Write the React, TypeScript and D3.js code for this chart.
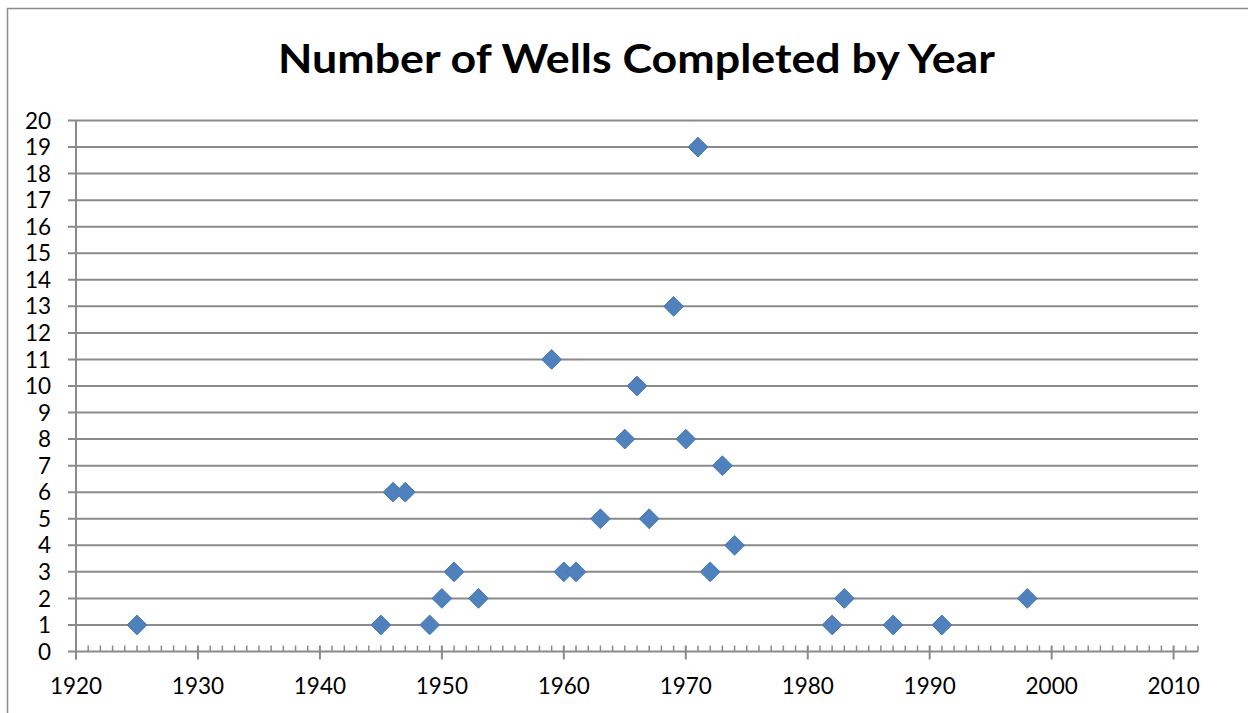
import React, { useEffect, useRef } from "react";
import * as d3 from "d3";

// wells completed per year
const years = [
  1925, 1945, 1946, 1947, 1949, 1950, 1951, 1953, 1959, 1960, 1961, 1963, 1965,
  1966, 1967, 1969, 1970, 1971, 1972, 1973, 1974, 1982, 1983, 1987, 1991, 1998,
];
const wells = [
  1, 1, 6, 6, 1, 2, 3, 2, 11, 3, 3, 5, 8, 10, 5, 13, 8, 19, 3, 7, 4, 1, 2, 1, 1, 2,
];
const xTicks = [1920, 1930, 1940, 1950, 1960, 1970, 1980, 1990, 2000, 2010];
const yTicks = d3.range(0, 21);
const title = "Number of Wells Completed by Year";

const App = () => {
  const svgRef = useRef<SVGSVGElement>(null);

  useEffect(() => {
    document.body.style.margin = "0";
    document.body.style.overflow = "hidden";

    const width = 1248;
    const height = 713;
    const margin = { top: 120.5, right: 50, bottom: 61.5, left: 76 };
    const font = "Lato, 'Open Sans', sans-serif";

    const svg = d3.select(svgRef.current);
    svg.selectAll("*").remove();
    svg.attr("width", width).attr("height", height);

    // chart area border (runs off the right and bottom edges)
    svg
      .append("path")
      .attr("d", `M7.5,${height + 5} V8.5 H${width + 5}`)
      .attr("fill", "none")
      .attr("stroke", "#8c8c8c")
      .attr("stroke-width", 1.5);

    const x = d3
      .scaleLinear()
      .domain([1920, 2012])
      .range([margin.left, width - margin.right]);
    const y = d3
      .scaleLinear()
      .domain([0, 20])
      .range([height - margin.bottom, margin.top]);

    // horizontal gridlines + y ticks
    svg
      .append("g")
      .selectAll("line")
      .data(yTicks)
      .enter()
      .append("line")
      .attr("x1", margin.left - 8)
      .attr("x2", width - margin.right)
      .attr("y1", (d) => y(d))
      .attr("y2", (d) => y(d))
      .attr("stroke", "#8a8a8a")
      .attr("stroke-width", 2);

    svg
      .append("g")
      .selectAll("text")
      .data(yTicks)
      .enter()
      .append("text")
      .attr("x", 51)
      .attr("y", (d) => y(d))
      .attr("dy", "0.36em")
      .attr("text-anchor", "end")
      .attr("font-family", font)
      .attr("font-size", 22.5)
      .attr("fill", "#000")
      .text((d) => d);

    // y axis line
    svg
      .append("line")
      .attr("x1", margin.left)
      .attr("x2", margin.left)
      .attr("y1", y(20))
      .attr("y2", y(0) + 8)
      .attr("stroke", "#8a8a8a")
      .attr("stroke-width", 2);

    // x axis: minor ticks every year (inside), major every decade (cross)
    const axisY = y(0);
    const minor = d3.range(1921, 2013).filter((d) => d % 10 !== 0);
    svg
      .append("g")
      .selectAll("line")
      .data(minor)
      .enter()
      .append("line")
      .attr("x1", (d) => x(d))
      .attr("x2", (d) => x(d))
      .attr("y1", axisY - 6)
      .attr("y2", axisY)
      .attr("stroke", "#8a8a8a")
      .attr("stroke-width", 1.5);

    svg
      .append("g")
      .selectAll("line")
      .data(xTicks)
      .enter()
      .append("line")
      .attr("x1", (d) => x(d))
      .attr("x2", (d) => x(d))
      .attr("y1", axisY - 6)
      .attr("y2", axisY + 8)
      .attr("stroke", "#8a8a8a")
      .attr("stroke-width", 2);

    svg
      .append("g")
      .selectAll("text")
      .data(xTicks)
      .enter()
      .append("text")
      .attr("x", (d) => x(d))
      .attr("y", 694)
      .attr("text-anchor", "middle")
      .attr("font-family", font)
      .attr("font-size", 22.5)
      .attr("fill", "#000")
      .text((d) => d);

    // points (diamonds)
    const pts = years.map((yr, i) => ({ yr, n: wells[i] }));
    const diamond = d3.symbol().type(d3.symbolDiamond2).size(250);
    svg
      .append("g")
      .selectAll("path")
      .data(pts)
      .enter()
      .append("path")
      .attr("d", diamond)
      .attr("transform", (d) => `translate(${x(d.yr)},${y(d.n)})`)
      .attr("fill", "#4f81bd")
      .attr("stroke", "#4a7ab4")
      .attr("stroke-width", 1);

    // title
    svg
      .append("text")
      .attr("x", 636.5)
      .attr("y", 73)
      .attr("text-anchor", "middle")
      .attr("font-family", font)
      .attr("font-weight", "bold")
      .attr("font-size", 41)
      .attr("textLength", 717)
      .attr("lengthAdjust", "spacingAndGlyphs")
      .text(title);
  }, []);

  return <svg ref={svgRef} style={{ display: "block" }} />;
};

export default App;
